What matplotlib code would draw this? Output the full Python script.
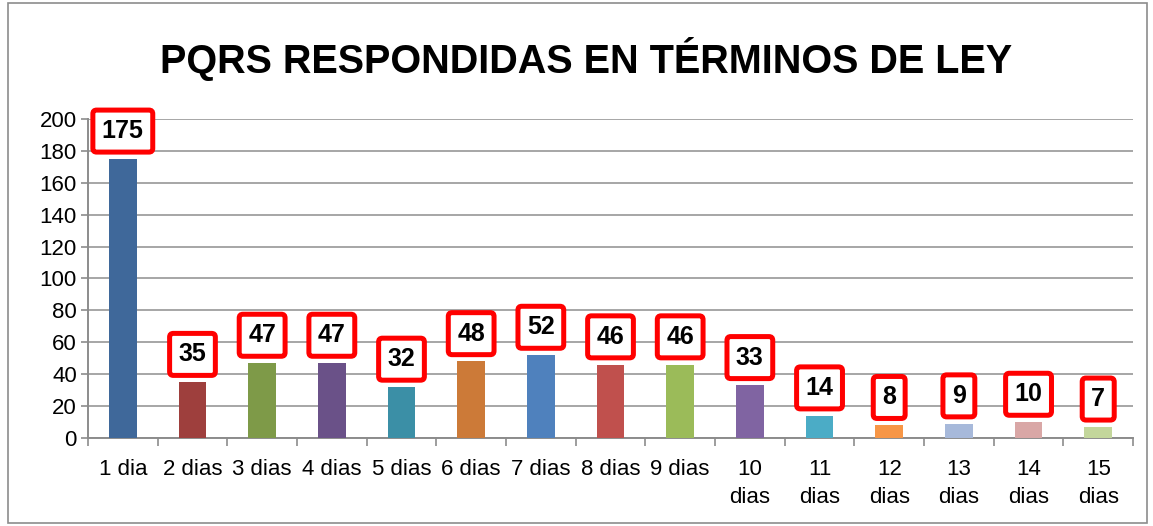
import matplotlib.pyplot as plt
from matplotlib.patches import Rectangle
from matplotlib.ticker import FixedLocator

plt.rcParams['font.family'] = ['Liberation Sans', 'DejaVu Sans']

categorias = ["1 dia", "2 dias", "3 dias", "4 dias", "5 dias", "6 dias", "7 dias",
              "8 dias", "9 dias", "10\ndias", "11\ndias", "12\ndias", "13\ndias",
              "14\ndias", "15\ndias"]
valores = [175, 35, 47, 47, 32, 48, 52, 46, 46, 33, 14, 8, 9, 10, 7]
colores = ["#3F689A", "#9E3F3D", "#7E9A48", "#6A5188", "#3B8FA6", "#CC7A38",
           "#4F81BD", "#C0504D", "#9BBB59", "#8064A2", "#4BACC6", "#F79646",
           "#A7B9DA", "#D9A7A6", "#C3D69B"]
yticks = [0, 20, 40, 60, 80, 100, 120, 140, 160, 180, 200]

fig = plt.figure(figsize=(11.53, 5.26), dpi=100)
ax = fig.add_axes([0.0763, 0.1673, 0.9064, 0.6065])

x = list(range(len(categorias)))
ax.bar(x, valores, width=0.4, color=colores, zorder=3)

for xi, v in zip(x, valores):
    ax.annotate(str(v), (xi, v), xytext=(0, 20), textcoords='offset points',
                ha='center', va='center', fontsize=18, fontweight='bold',
                bbox=dict(boxstyle='round,pad=0.36,rounding_size=0.15',
                          fc='white', ec='#FF0000', lw=3.6),
                zorder=5)

ax.set_xlim(-0.5, len(categorias) - 0.5)
ax.set_ylim(0, 200)
ax.set_yticks(yticks)
ax.tick_params(axis='y', labelsize=16, length=5, width=1.2, color='#8C8C8C', pad=3)
ax.set_xticks(x)
ax.set_xticklabels(categorias, linespacing=1.45)
ax.tick_params(axis='x', which='major', length=0, labelsize=16, pad=15)
ax.xaxis.set_minor_locator(FixedLocator([i - 0.5 for i in range(len(categorias) + 1)]))
ax.tick_params(axis='x', which='minor', length=6, width=1.2, color='#8C8C8C', direction='out')

ax.grid(axis='y', color='#A6A6A6', lw=1.4, zorder=0)
for s in ['top', 'right']:
    ax.spines[s].set_visible(False)
for s in ['left', 'bottom']:
    ax.spines[s].set_color('#8C8C8C')
    ax.spines[s].set_linewidth(1.4)

fig.text(0.508, 0.888, "PQRS RESPONDIDAS EN TÉRMINOS DE LEY", ha='center', va='center',
         fontsize=28.5, fontweight='bold')

fig.patches.append(Rectangle((0.007, 0.006), 0.988, 0.988, transform=fig.transFigure,
                             fill=False, ec='#8C8C8C', lw=1.2))

fig.savefig("out.png", dpi=100)
